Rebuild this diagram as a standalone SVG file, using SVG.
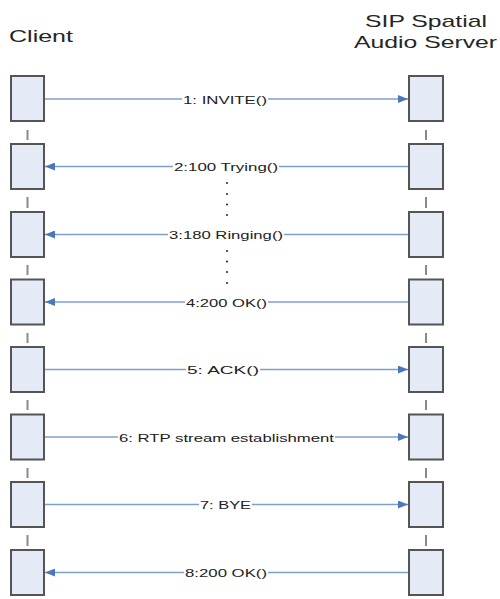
<svg xmlns="http://www.w3.org/2000/svg" width="500" height="599" viewBox="0 0 500 599">
<defs>
<style>
.title{font-family:"Liberation Sans",Arial,sans-serif;font-size:17px;fill:#262626}
.lbl{font-family:"Liberation Sans",Arial,sans-serif;font-size:11.5px;fill:#222}
.box{fill:#e5ebf6;stroke:#555;stroke-width:2}
.life{stroke:#8a8a8a;stroke-width:2}
.msg{stroke:#7f9fcb;stroke-width:1.4;fill:none}
.bg{fill:#fff}
.dot{fill:#333}
</style>
<marker id="ah" viewBox="0 0 10 8" refX="10" refY="4" markerWidth="10" markerHeight="8" markerUnits="userSpaceOnUse" orient="auto">
<path d="M0,0 L10,4 L0,8 Z" fill="#4a78ba"/>
</marker>
</defs>
<rect width="500" height="599" fill="#fff"/>

<g id="titles">
<text class="title" x="9" y="42" textLength="64" lengthAdjust="spacingAndGlyphs">Client</text>
<text class="title" x="365" y="26.5" textLength="122" lengthAdjust="spacingAndGlyphs">SIP Spatial</text>
<text class="title" x="354" y="47.5" textLength="143" lengthAdjust="spacingAndGlyphs">Audio Server</text>
</g>

<g id="lifelines">
<line class="life" x1="27.5" y1="130" x2="27.5" y2="140"/>
<line class="life" x1="27.5" y1="197" x2="27.5" y2="208"/>
<line class="life" x1="27.5" y1="265" x2="27.5" y2="275"/>
<line class="life" x1="27.5" y1="333" x2="27.5" y2="343"/>
<line class="life" x1="27.5" y1="400" x2="27.5" y2="410"/>
<line class="life" x1="27.5" y1="468" x2="27.5" y2="478"/>
<line class="life" x1="27.5" y1="535" x2="27.5" y2="546"/>
<line class="life" x1="426" y1="130" x2="426" y2="140"/>
<line class="life" x1="426" y1="197" x2="426" y2="208"/>
<line class="life" x1="426" y1="265" x2="426" y2="275"/>
<line class="life" x1="426" y1="333" x2="426" y2="343"/>
<line class="life" x1="426" y1="400" x2="426" y2="410"/>
<line class="life" x1="426" y1="468" x2="426" y2="478"/>
<line class="life" x1="426" y1="535" x2="426" y2="546"/>
</g>

<g id="client">
<rect id="c1" class="box" x="11" y="76" width="33" height="45"/>
<rect id="c2" class="box" x="11" y="144" width="33" height="45"/>
<rect id="c3" class="box" x="11" y="212" width="33" height="45"/>
<rect id="c4" class="box" x="11" y="279.5" width="33" height="45"/>
<rect id="c5" class="box" x="11" y="347" width="33" height="45"/>
<rect id="c6" class="box" x="11" y="414.5" width="33" height="45"/>
<rect id="c7" class="box" x="11" y="482" width="33" height="45"/>
<rect id="c8" class="box" x="11" y="550" width="33" height="45"/>
</g>

<g id="server">
<rect id="s1" class="box" x="409" y="76" width="34" height="45"/>
<rect id="s2" class="box" x="409" y="144" width="34" height="45"/>
<rect id="s3" class="box" x="409" y="212" width="34" height="45"/>
<rect id="s4" class="box" x="409" y="279.5" width="34" height="45"/>
<rect id="s5" class="box" x="409" y="347" width="34" height="45"/>
<rect id="s6" class="box" x="409" y="414.5" width="34" height="45"/>
<rect id="s7" class="box" x="409" y="482" width="34" height="45"/>
<rect id="s8" class="box" x="409" y="550" width="34" height="45"/>
</g>

<g id="connectors">
<line class="msg" x1="45" y1="99" x2="408" y2="99" marker-end="url(#ah)"/>
<line class="msg" x1="408" y1="166.5" x2="45" y2="166.5" marker-end="url(#ah)"/>
<line class="msg" x1="408" y1="234.5" x2="45" y2="234.5" marker-end="url(#ah)"/>
<line class="msg" x1="408" y1="302" x2="45" y2="302" marker-end="url(#ah)"/>
<line class="msg" x1="45" y1="369.5" x2="408" y2="369.5" marker-end="url(#ah)"/>
<line class="msg" x1="45" y1="437" x2="408" y2="437" marker-end="url(#ah)"/>
<line class="msg" x1="45" y1="504.5" x2="408" y2="504.5" marker-end="url(#ah)"/>
<line class="msg" x1="408" y1="572.5" x2="45" y2="572.5" marker-end="url(#ah)"/>
</g>

<g id="labels">
<rect class="bg" x="182" y="93" width="86" height="13"/>
<text class="lbl" x="183" y="103.5" textLength="84" lengthAdjust="spacingAndGlyphs">1: INVITE()</text>
<rect class="bg" x="173" y="160.5" width="106" height="13"/>
<text class="lbl" x="174" y="171" textLength="104" lengthAdjust="spacingAndGlyphs">2:100 Trying()</text>
<rect class="bg" x="168" y="228.5" width="116" height="13"/>
<text class="lbl" x="169" y="239" textLength="114" lengthAdjust="spacingAndGlyphs">3:180 Ringing()</text>
<rect class="bg" x="185" y="296" width="83" height="13"/>
<text class="lbl" x="186" y="306.5" textLength="81" lengthAdjust="spacingAndGlyphs">4:200 OK()</text>
<rect class="bg" x="186" y="363.5" width="74" height="13"/>
<text class="lbl" x="187" y="374" textLength="72" lengthAdjust="spacingAndGlyphs">5: ACK()</text>
<rect class="bg" x="118" y="431" width="217" height="13"/>
<text class="lbl" x="119" y="441.5" textLength="215" lengthAdjust="spacingAndGlyphs">6: RTP stream establishment</text>
<rect class="bg" x="199" y="498.5" width="53" height="13"/>
<text class="lbl" x="200" y="509" textLength="51" lengthAdjust="spacingAndGlyphs">7: BYE</text>
<rect class="bg" x="184" y="566.5" width="84" height="13"/>
<text class="lbl" x="185" y="577" textLength="82" lengthAdjust="spacingAndGlyphs">8:200 OK()</text>
</g>

<g id="ellipsis">
<circle class="dot" cx="227" cy="183" r="1.1"/>
<circle class="dot" cx="227" cy="194" r="1.1"/>
<circle class="dot" cx="227" cy="204.5" r="1.1"/>
<circle class="dot" cx="227" cy="215" r="1.1"/>
<circle class="dot" cx="227" cy="251" r="1.1"/>
<circle class="dot" cx="227" cy="261.5" r="1.1"/>
<circle class="dot" cx="227" cy="272" r="1.1"/>
<circle class="dot" cx="227" cy="283" r="1.1"/>
</g>
</svg>
